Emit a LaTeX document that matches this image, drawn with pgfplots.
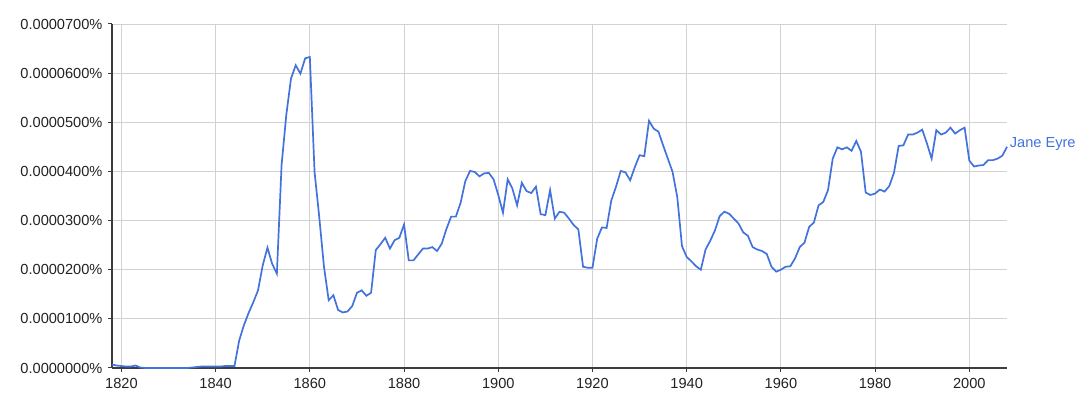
\documentclass[border=0pt]{standalone}
\usepackage{pgfplots}
\pgfplotsset{compat=1.18}
\usepackage{fontspec}
\setmainfont{Liberation Sans}
\usetikzlibrary{calc}
\definecolor{ngblue}{RGB}{66,114,219}
\definecolor{gridgray}{RGB}{210,210,210}
\definecolor{axgray}{RGB}{60,60,60}
\definecolor{txtgray}{RGB}{34,34,34}
\begin{document}
\begin{tikzpicture}
\begin{axis}[
  scale only axis,
  width=895pt, height=344pt,
  xmin=1818, xmax=2008,
  ymin=0, ymax=700,
  axis lines*=left,
  axis line style={axgray, line width=1.6pt},
  xtick={1820,1840,...,2000},
  ytick={0,100,...,700},
  yticklabels={0.0000000\%,0.0000100\%,0.0000200\%,0.0000300\%,0.0000400\%,0.0000500\%,0.0000600\%,0.0000700\%},
  xticklabel style={/pgf/number format/1000 sep={}, yshift=-2.5pt},
  yticklabel style={xshift=-2pt},
  /pgf/number format/assume math mode=true,
  tick label style={font=\fontsize{14.6}{16}\selectfont, text=txtgray},
  tick align=outside,
  major tick length=4pt,
  tick style={axgray, line width=1pt},
  grid=major,
  major grid style={gridgray, line width=0.9pt},
  clip=false,
]
\addplot[ngblue, line width=1.7pt, mark=none] table[x=year,y=v] {
year v
1818 7
1819 5
1820 4
1821 3
1822 3
1823 5
1824 1
1825 0
1826 0
1827 0
1828 0
1829 0
1830 0
1831 0
1832 0
1833 0
1834 0
1835 1
1836 2
1837 3
1838 3
1839 3
1840 3
1841 3
1842 4
1843 4
1844 4
1845 56
1846 87
1847 112
1848 134
1849 158
1850 209
1851 245
1852 212
1853 192
1854 413
1855 515
1856 589
1857 616
1858 599
1859 630
1860 633
1861 399
1862 307
1863 206
1864 138
1865 148
1866 118
1867 113
1868 115
1869 126
1870 153
1871 158
1872 147
1873 153
1874 240
1875 252
1876 265
1877 243
1878 260
1879 265
1880 292
1881 219
1882 219
1883 231
1884 243
1885 243
1886 246
1887 238
1888 253
1889 283
1890 308
1891 308
1892 336
1893 380
1894 401
1895 399
1896 390
1897 396
1898 397
1899 384
1900 352
1901 316
1902 384
1903 365
1904 331
1905 377
1906 360
1907 356
1908 369
1909 313
1910 311
1911 362
1912 304
1913 318
1914 316
1915 304
1916 291
1917 282
1918 206
1919 204
1920 204
1921 263
1922 286
1923 285
1924 341
1925 369
1926 401
1927 398
1928 382
1929 409
1930 433
1931 431
1932 503
1933 487
1934 481
1935 453
1936 426
1937 399
1938 348
1939 248
1940 226
1941 217
1942 207
1943 200
1944 241
1945 259
1946 280
1947 309
1948 318
1949 314
1950 304
1951 294
1952 276
1953 269
1954 246
1955 241
1956 238
1957 232
1958 206
1959 196
1960 200
1961 206
1962 207
1963 223
1964 246
1965 255
1966 287
1967 296
1968 331
1969 338
1970 362
1971 426
1972 449
1973 445
1974 449
1975 442
1976 462
1977 440
1978 357
1979 352
1980 355
1981 363
1982 359
1983 370
1984 397
1985 452
1986 453
1987 475
1988 475
1989 479
1990 485
1991 457
1992 426
1993 484
1994 475
1995 479
1996 489
1997 477
1998 484
1999 489
2000 422
2001 410
2002 412
2003 413
2004 423
2005 423
2006 426
2007 432
2008 450
} node[anchor=west, xshift=1pt, yshift=3pt, text=ngblue, font=\fontsize{14.6}{16}\selectfont, inner sep=1pt] {Jane Eyre};
\end{axis}
\pgfresetboundingbox
\path ($(current axis.south west)+(-112pt,-32pt)$) rectangle ($(current axis.north east)+(84pt,24pt)$);
\end{tikzpicture}
\end{document}
